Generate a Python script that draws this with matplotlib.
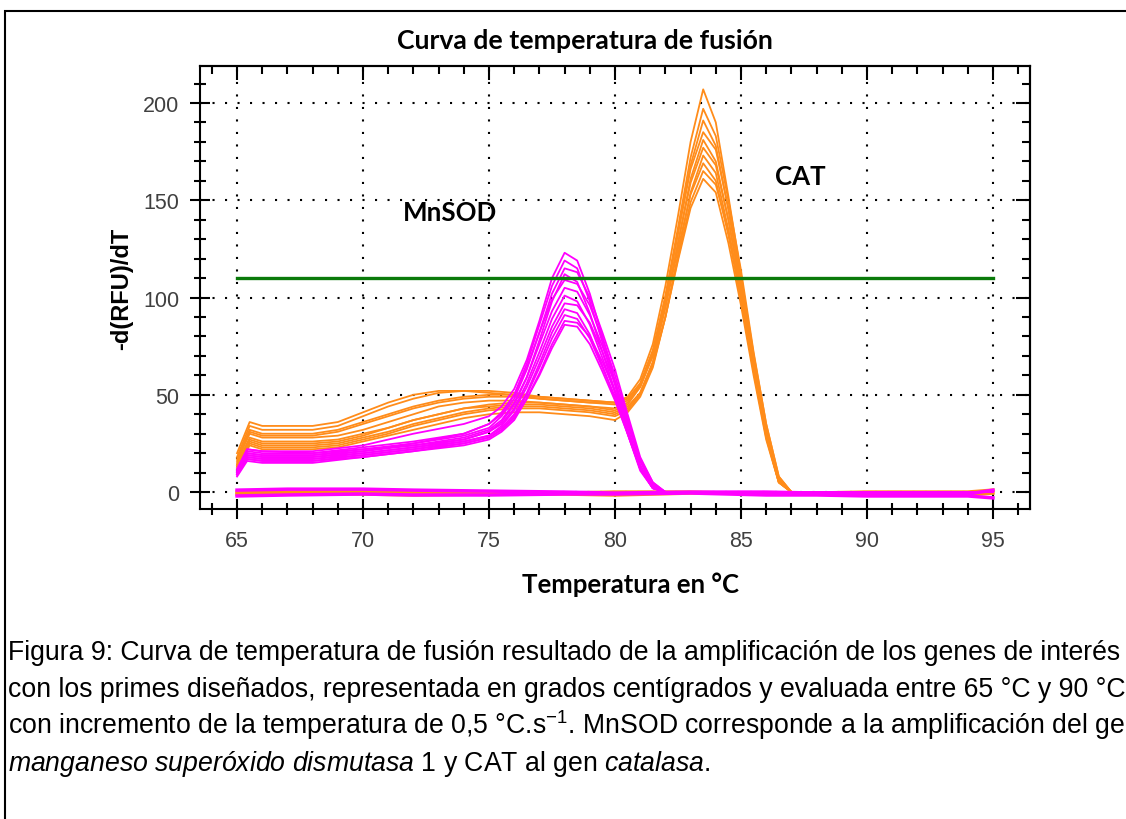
import matplotlib
matplotlib.use('Agg')
import matplotlib.pyplot as plt
from matplotlib.ticker import MultipleLocator
from matplotlib.patches import Rectangle

# Melt curve data (-d(RFU)/dT vs temperature in °C)
sod_temp = [65, 65.4, 66, 68, 70, 72, 74, 75, 75.5, 76, 76.5, 77, 77.5, 78,
            78.5, 79, 79.5, 80, 80.5, 81, 81.5, 82, 95]
sod_curves = [
    [12, 22, 21, 21, 24, 30, 35, 39, 44, 53, 68, 88, 110, 123, 119, 102, 80, 57, 33, 13, 3, 0, 0],
    [11, 21, 20, 20, 23, 26, 30, 35, 41, 50, 66, 86, 106, 119, 115, 98, 77, 55, 32, 12, 2, 0, 0],
    [10, 20, 19, 19, 22, 25, 29, 33, 39, 48, 63, 82, 102, 115, 113, 100, 82, 63, 40, 18, 5, 0, 0],
    [11, 22, 21, 20, 22, 24, 27, 31, 36, 45, 59, 78, 98, 112, 108, 92, 72, 52, 30, 11, 2, 0, 0],
    [10, 19, 18, 18, 21, 25, 30, 35, 40, 50, 64, 82, 99, 109, 107, 96, 79, 60, 38, 16, 4, 0, 0],
    [9, 20, 19, 19, 21, 24, 28, 32, 37, 46, 59, 76, 93, 105, 103, 91, 75, 57, 36, 16, 4, 0, 0],
    [10, 18, 17, 17, 20, 23, 27, 31, 35, 43, 56, 72, 89, 101, 98, 86, 69, 51, 31, 12, 2, 0, 0],
    [9, 17, 16, 16, 19, 22, 26, 29, 34, 42, 54, 69, 85, 97, 96, 87, 72, 56, 37, 17, 5, 0, 0],
    [10, 19, 18, 18, 20, 23, 26, 29, 33, 40, 51, 66, 82, 94, 92, 81, 65, 48, 30, 12, 2, 0, 0],
    [9, 17, 16, 16, 18, 21, 25, 28, 32, 39, 50, 64, 79, 91, 89, 79, 64, 49, 32, 14, 3, 0, 0],
    [8, 16, 15, 15, 18, 21, 24, 27, 31, 37, 48, 61, 76, 88, 87, 80, 67, 52, 35, 16, 4, 0, 0],
    [9, 18, 17, 17, 19, 22, 25, 28, 32, 38, 48, 60, 74, 86, 85, 76, 62, 47, 30, 12, 2, 0, 0],
]

cat_temp = [65, 65.5, 66, 68, 69, 70, 71, 72, 73, 74, 75, 76, 77, 78, 79, 80,
            80.5, 81, 81.5, 82, 82.5, 83, 83.5, 84, 84.5, 85, 85.5, 86, 86.5, 87, 95]
cat_curves = [
    [20, 36, 34, 34, 36, 41, 46, 50, 52, 52, 51, 50, 48, 47, 46, 46, 49, 58, 76, 106, 142, 180, 207, 190, 152, 112, 68, 32, 6, 0, 0],
    [16, 30, 28, 28, 29, 32, 36, 40, 44, 46, 47, 47, 46, 45, 44, 43, 46, 55, 72, 101, 136, 172, 197, 183, 150, 114, 72, 35, 8, 0, 0],
    [14, 28, 26, 26, 27, 30, 33, 37, 40, 43, 45, 46, 46, 45, 44, 42, 45, 54, 71, 99, 133, 168, 191, 178, 145, 108, 67, 31, 6, 0, 0],
    [18, 34, 32, 32, 34, 39, 44, 48, 51, 52, 52, 51, 49, 48, 47, 46, 48, 56, 73, 100, 133, 166, 185, 176, 146, 111, 71, 35, 8, 0, 0],
    [13, 26, 24, 24, 25, 28, 31, 35, 38, 41, 43, 44, 44, 43, 42, 40, 43, 51, 67, 95, 128, 161, 181, 170, 140, 104, 64, 29, 5, 0, 0],
    [15, 31, 29, 29, 31, 35, 39, 43, 46, 48, 49, 49, 48, 47, 46, 45, 47, 54, 70, 96, 128, 159, 177, 168, 140, 106, 67, 32, 7, 0, 0],
    [12, 24, 22, 22, 23, 26, 29, 32, 35, 38, 40, 41, 41, 40, 39, 37, 41, 49, 64, 90, 122, 154, 173, 164, 135, 101, 63, 29, 5, 0, 0],
    [17, 32, 30, 30, 32, 36, 40, 44, 47, 49, 50, 50, 49, 48, 47, 46, 48, 55, 70, 95, 125, 153, 169, 160, 132, 99, 62, 28, 5, 0, 0],
    [13, 25, 23, 23, 24, 27, 30, 34, 37, 40, 42, 43, 43, 42, 41, 39, 42, 50, 65, 90, 120, 149, 165, 158, 134, 102, 66, 31, 7, 0, 0],
    [14, 27, 25, 25, 26, 29, 33, 37, 40, 43, 44, 45, 45, 44, 43, 41, 44, 51, 66, 90, 119, 146, 161, 154, 128, 96, 60, 27, 5, 0, 0],
]

# flat no-template / negative wells near zero
base_temp = [65, 67, 70, 72, 75, 78, 80, 83, 86, 88, 90, 92, 94, 95]
base_sod = [
    [1, 1.5, 1.5, 1, 0.5, 0, -0.5, 0, 0, -0.5, -0.5, -1, -1, 1],
    [-2, -1.5, -1, -1.5, -1.5, -1, -1, -0.5, -1.5, -1.5, -2, -2, -2, -3],
]
base_cat = [
    [0, 0, 0.5, 0, -1, -0.5, 0, 0, -1, -0.5, 0, 0, 0, 1],
    [-1, -0.5, -1, -1.5, -1, -1, -1.5, -0.5, -0.5, -1, -1, -1, -1.5, -0.5],
]

threshold = 110
x_ticks = [65, 70, 75, 80, 85, 90, 95]
y_ticks = [0, 50, 100, 150, 200]

W, H = 1126, 820
orange = '#ff8c1a'
magenta = '#ff00ff'

plt.rcParams['mathtext.fontset'] = 'custom'
plt.rcParams['mathtext.rm'] = 'Liberation Sans'
plt.rcParams['mathtext.it'] = 'Liberation Sans:italic'

fig = plt.figure(figsize=(W / 100, H / 100), dpi=100)
ax = fig.add_axes([200 / W, 1 - 510 / H, 830 / W, 443 / H])

for row in cat_curves:
    ax.plot(cat_temp, row, color=orange, lw=1.3)
for row in base_cat:
    ax.plot(base_temp, row, color=orange, lw=2.5)
for row in sod_curves:
    ax.plot(sod_temp, row, color=magenta, lw=1.3)
for row in base_sod:
    ax.plot(base_temp, row, color=magenta, lw=2.5)

ax.plot([x_ticks[0], x_ticks[-1]], [threshold, threshold], color='#0a7a0a', lw=2.4)

ax.set_xlim(63.53, 96.47)
ax.set_ylim(-8.7, 219)
ax.set_xticks(x_ticks)
ax.set_yticks(y_ticks)
ax.xaxis.set_minor_locator(MultipleLocator(1))
ax.yaxis.set_minor_locator(MultipleLocator(10))
ax.grid(True, which='major', color='black', linestyle=(0, (1, 5)), lw=1.5)

for s in ax.spines.values():
    s.set_linewidth(1.5)
ax.tick_params(which='major', direction='inout', length=14, width=1.5,
               labelsize=15.5, labelcolor='#404040', pad=8)
ax.tick_params(which='minor', direction='inout', length=8, width=1.5)
for lab in ax.get_xticklabels() + ax.get_yticklabels():
    lab.set_family('Liberation Sans')

# inward ticks on the top and right spines
top = ax.secondary_xaxis('top')
top.set_xticks(x_ticks)
top.xaxis.set_minor_locator(MultipleLocator(1))
top.tick_params(which='major', direction='in', length=10, width=1.5, labeltop=False)
top.tick_params(which='minor', direction='in', length=6, width=1.5)
top.spines['top'].set_linewidth(1.5)
right = ax.secondary_yaxis('right')
right.set_yticks(y_ticks)
right.yaxis.set_minor_locator(MultipleLocator(10))
right.tick_params(which='major', direction='in', length=10, width=1.5, labelright=False)
right.tick_params(which='minor', direction='in', length=6, width=1.5)
right.spines['right'].set_linewidth(1.5)

ax.set_ylabel('-d(RFU)/dT', family='Liberation Sans', fontweight='bold',
              fontsize=17, va='center')
ax.yaxis.set_label_coords(-0.095, 0.5)

ax.text(73.45, 144, 'MnSOD', family='Lato', fontweight='bold', fontsize=18.6,
        ha='center', va='center')
ax.text(87.34, 162.5, 'CAT', family='Lato', fontweight='bold', fontsize=18.6,
        ha='center', va='center')

fig.text(585 / W, 1 - 49 / H, 'Curva de temperatura de fusión', family='Lato',
         fontweight='bold', fontsize=19.2, ha='center', va='baseline')
fig.text(630 / W, 1 - 593 / H, 'Temperatura en °C', family='Lato',
         fontweight='bold', fontsize=18.5, ha='center', va='baseline')

# outer frame (runs off the right and bottom edges)
fig.add_artist(Rectangle((5 / W, -0.2), 1.5, 1.2 - 12 / H, transform=fig.transFigure,
                         fill=False, edgecolor='black', lw=1.5))

caption = [
    'Figura 9: Curva de temperatura de fusión resultado de la amplificación de los genes de interés',
    'con los primes diseñados, representada en grados centígrados y evaluada entre 65 °C y 90 °C',
    r'con incremento de la temperatura de 0,5 °C.s$^{\mathregular{-1}}$. MnSOD corresponde a la amplificación del gen',
    r'$\mathit{manganeso\ superóxido\ dismutasa}$ 1 y CAT al gen $\mathit{catalasa}$.',
]
for i, line in enumerate(caption):
    fig.text(8 / W, 1 - (660 + 37 * i) / H, line, family='Liberation Sans',
             fontsize=19.2, ha='left', va='baseline')

fig.savefig('out.png', dpi=100)
